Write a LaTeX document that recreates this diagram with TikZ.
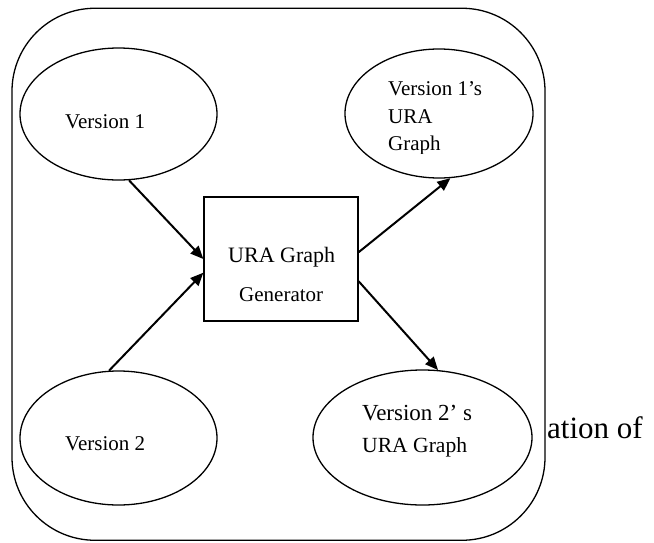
\documentclass[tikz,border=0pt]{standalone}
\usepackage{fontspec}
\setmainfont{Liberation Serif}
\usetikzlibrary{shapes.geometric,arrows.meta}
\begin{document}
\begin{tikzpicture}[x=1pt,y=-1pt,
  oval/.style={draw,line width=1.3pt,ellipse,inner sep=0pt},
  lbl/.style={inner sep=0pt,anchor=base west,font=\fontsize{21}{25}\selectfont},
  arr/.style={line width=2pt,-{Triangle[length=13pt,width=11pt]}},
]
\useasboundingbox (0,0) rectangle (654,542);
\node[draw,line width=1.3pt,rounded corners=83pt,minimum width=533pt,minimum height=532pt,inner sep=0pt] (frame) at (278.5,274.25) {};
\node[oval,minimum width=197pt,minimum height=132pt] (v1) at (118.5,114) {};
\node[oval,minimum width=188pt,minimum height=129pt] (v1g) at (439,113.5) {};
\node[oval,minimum width=197pt,minimum height=134pt] (v2) at (118.5,438) {};
\node[oval,minimum width=219pt,minimum height=135pt] (v2g) at (422.5,437.5) {};
\node[draw,line width=1.3pt,minimum width=154pt,minimum height=124pt,inner sep=0pt] (box) at (281,259) {};
\node[lbl] (v1t) at (65,128) {Version 1};
\node[lbl] (v1ga) at (388,95) {Version 1’s};
\node[lbl] (v1gb) at (388,123) {URA};
\begin{scope}
  \clip (380,125) rectangle (500,153);
  \node[lbl] (v1gc) at (388,150) {Graph};
\end{scope}
\node[lbl,font=\fontsize{22}{26}\selectfont] (boxt1) at (228,262) {URA Graph};
\node[lbl] (boxt2) at (239,301) {Generator};
\node[lbl] (v2t) at (65,450) {Version 2};
\node[lbl,font=\fontsize{23}{27}\selectfont] (v2ga) at (362,420) {Version 2’ s};
\node[lbl,font=\fontsize{21.6}{26}\selectfont] (v2gb) at (362,452) {URA Graph};
\node[lbl,font=\fontsize{31}{35}\selectfont] (ation) at (547,438) {ation of};
\draw[arr] (v1.-81.8) -- (box.180.7);
\draw[arr] (v2.98) -- (box.190.3);
\draw[arr] (box.5) -- (v1g.-80.5);
\draw[arr] (box.-16.2) -- (v2g.77.3);
\end{tikzpicture}
\end{document}
